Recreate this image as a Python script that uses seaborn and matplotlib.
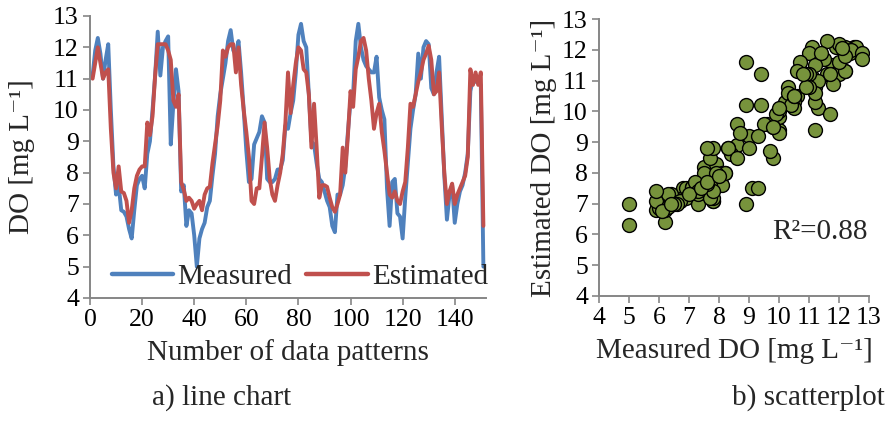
import matplotlib
matplotlib.use("Agg")
import matplotlib.pyplot as plt
import pandas as pd
import seaborn as sns

# ---- data ----
patterns = list(range(1, 152))
measured = [
    11.1, 11.9, 12.3, 11.8, 11.0, 11.6, 12.1, 10.0, 8.2, 7.3,
    7.6, 6.8, 6.75, 6.6, 6.2, 5.9, 6.8, 7.6, 7.8, 7.9,
    7.5, 8.6, 9.0, 10.0, 11.1, 12.5, 11.1, 12.0, 12.2, 12.35,
    8.9, 10.2, 11.3, 10.6, 7.4, 7.6, 6.3, 6.8, 6.7, 6.0,
    5.0, 5.9, 6.2, 6.4, 6.9, 7.1, 7.9, 8.6, 9.8, 10.5,
    11.0, 11.5, 12.2, 12.55, 11.9, 11.8, 12.2, 11.2, 10.0, 8.7,
    7.7, 7.8, 8.9, 9.1, 9.3, 9.8, 9.6, 7.8, 7.7, 7.7,
    7.8, 8.1, 8.1, 8.4, 9.5, 9.4, 9.9, 10.3, 11.2, 12.4,
    12.75, 12.2, 12.0, 10.5, 9.0, 8.9, 8.3, 7.8, 7.7, 7.4,
    7.1, 6.9, 6.3, 6.1, 7.3, 7.3, 7.6, 8.2, 9.3, 10.3,
    10.5, 12.2, 12.75, 12.0, 11.6, 11.4, 11.3, 11.2, 11.2, 11.7,
    10.4, 10.0, 9.7, 7.5, 6.3, 7.7, 7.8, 6.7, 6.6, 5.9,
    7.2, 8.3, 9.4, 10.0, 10.5, 11.8, 11.0, 12.0, 12.2, 12.1,
    10.7, 10.5, 11.2, 11.7, 9.8, 7.9, 6.5, 7.3, 7.6, 6.4,
    7.0, 7.4, 7.6, 8.0, 8.6, 10.6, 11.0, 10.9, 10.9, 10.8,
    5.0,
]
estimated = [
    11.0, 11.5, 12.0, 11.5, 11.0, 11.2, 11.3, 9.4, 8.0, 7.5,
    8.2, 7.4, 7.35, 7.1, 6.4, 6.8, 7.5, 7.9, 8.1, 8.2,
    8.2, 9.6, 9.2, 9.8, 11.1, 12.1, 12.1, 12.1, 12.1, 11.9,
    11.6, 10.3, 10.1, 10.5, 7.7, 7.45, 7.1, 7.2, 7.1, 6.85,
    7.0, 7.1, 6.8, 7.3, 7.5, 7.55, 8.3, 8.9, 9.5, 10.3,
    11.9, 11.7, 12.0, 12.1, 12.1, 11.2, 12.0, 10.8, 10.0, 9.3,
    8.5, 7.1, 7.0, 7.5, 7.5, 8.5, 9.6, 8.8, 7.8, 7.3,
    7.1, 7.6, 8.0, 8.6, 9.6, 11.2, 9.9, 10.8, 11.5, 12.0,
    11.9, 11.3, 11.2, 10.5, 8.8, 10.2, 8.8, 7.2, 7.6, 7.6,
    7.55, 7.2, 6.9, 6.75, 7.0, 7.3, 8.8, 8.0, 9.2, 10.6,
    10.1, 11.3, 11.7, 12.2, 12.3, 11.9, 11.0, 10.3, 9.4, 9.9,
    10.2, 9.3, 8.7, 8.0, 7.3, 7.2, 7.4, 7.1, 7.0, 7.4,
    7.7, 8.8, 10.2, 10.1, 10.5, 10.9, 11.2, 11.6, 11.8, 12.05,
    11.6, 10.5, 10.6, 11.2, 9.5, 8.0, 7.0, 7.4, 7.65, 7.0,
    7.3, 7.5, 7.7, 7.9, 8.5, 11.3, 10.8, 11.2, 10.8, 11.2,
    6.3,
]
series_names = ["Measured", "Estimated"]
line_ticks = [0, 20, 40, 60, 80, 100, 120, 140]
do_ticks = [4, 5, 6, 7, 8, 9, 10, 11, 12, 13]
r2_label = "R\u00b2=0.88"
unit = "[mg L\u207b\u00b9]"

# ---- style ----
sns.set_theme(style="white")
plt.rcParams["font.family"] = ["Liberation Serif", "DejaVu Serif"]
TICK_FS = 18.5
LAB_FS = 21
GRAY = "#868686"
BLUE = "#4F81BD"
RED = "#C0504D"
OLIVE = "#77933C"

df = pd.DataFrame({"pattern": patterns, "Measured": measured, "Estimated": estimated})
long = df.melt(id_vars="pattern", value_vars=series_names, var_name="series", value_name="DO")

fig = plt.figure(figsize=(8.9, 4.28), dpi=100)
ax1 = fig.add_axes([90 / 890, 1 - 298 / 428, 396 / 890, 282 / 428])
ax2 = fig.add_axes([599 / 890, 1 - 296 / 428, 270 / 890, 277 / 428])

sns.lineplot(data=long, x="pattern", y="DO", hue="series", hue_order=series_names,
             palette={"Measured": BLUE, "Estimated": RED}, linewidth=2.8, ax=ax1)
for ln in ax1.get_lines():
    ln.set_solid_joinstyle("round")
    ln.set_solid_capstyle("round")
sns.scatterplot(data=df, x="Measured", y="Estimated", color=OLIVE, edgecolor="black",
                linewidth=1.0, s=100, ax=ax2, zorder=3)

for ax in (ax1, ax2):
    for side in ("top", "right"):
        ax.spines[side].set_visible(False)
    for side in ("left", "bottom"):
        ax.spines[side].set_color(GRAY)
        ax.spines[side].set_linewidth(1.4)
    ax.tick_params(axis="both", direction="out", length=5, width=1.2, color=GRAY,
                   labelsize=TICK_FS, labelcolor="black", pad=3,
                   left=True, bottom=True)
    ax.set_yticks(do_ticks)
    ax.set_ylim(4, 13)

ax1.set_xlim(0, 152)
ax1.set_xticks(line_ticks)
ax2.set_xlim(4, 13)
ax2.set_xticks(do_ticks)

ax1.set_xlabel("Number of data patterns", fontsize=LAB_FS)
ax1.set_ylabel("DO " + unit, fontsize=LAB_FS)
ax2.set_xlabel("Measured DO " + unit, fontsize=LAB_FS)
ax2.set_ylabel("Estimated DO " + unit, fontsize=LAB_FS)
ax1.xaxis.set_label_coords(0.5, -0.145)
ax2.xaxis.set_label_coords(0.5, -0.15)
ax1.yaxis.set_label_coords(-0.14, 0.5)
ax2.yaxis.set_label_coords(-0.155, 0.5)

handles, labels = ax1.get_legend_handles_labels()
for h in handles:
    h.set_linewidth(3.2)
ax1.legend(handles, labels, loc="lower center", bbox_to_anchor=(0.53, -0.065), ncol=2,
           frameon=False, fontsize=LAB_FS, handlelength=2.1, handletextpad=0.15,
           columnspacing=0.5)

ax2.text(12.97, 6.08, r2_label, ha="right", va="center", fontsize=LAB_FS)

fig.text(222 / 890, 1 - 398 / 428, "a) line chart", ha="center", va="center", fontsize=LAB_FS)
fig.text(808 / 890, 1 - 398 / 428, "b) scatterplot", ha="center", va="center", fontsize=LAB_FS)

fig.savefig("out.png", dpi=100)
